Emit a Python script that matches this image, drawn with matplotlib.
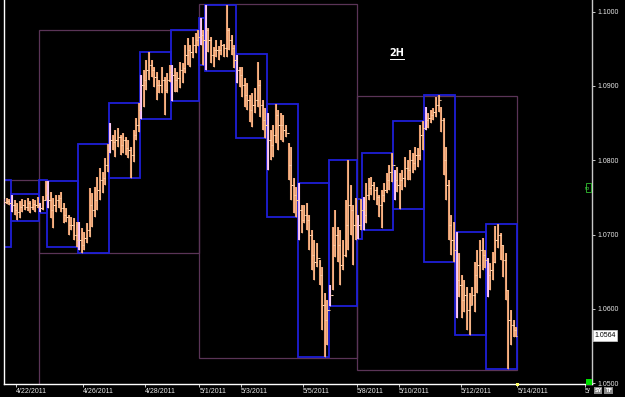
import matplotlib
matplotlib.use("Agg")
import matplotlib.pyplot as plt
from matplotlib.patches import Rectangle
from matplotlib.lines import Line2D
import matplotlib.transforms as mtransforms
import numpy as np

# ---- 2H bar data (price) ----
high = [1.0748,1.0749,1.0748,1.0753,1.0747,1.0743,1.0745,1.0748,1.0747,1.0749,1.0745,1.0748,1.0747,1.0751,1.0743,1.0752,1.0772,1.0772,1.0757,1.0749,
        1.0753,1.0753,1.0757,1.0743,1.0736,1.0726,1.0724,1.0722,1.0717,1.0717,1.0709,1.0703,1.0716,1.0763,1.0756,1.0764,1.0778,1.0790,1.0784,1.0803,
        1.0822,1.0850,1.0834,1.0841,1.0843,1.0834,1.0837,1.0831,1.0827,1.0818,1.0841,1.0857,1.0877,1.0915,1.0922,1.0935,1.0946,1.0935,1.0926,1.0919,
        1.0908,1.0926,1.0912,1.0918,1.0928,1.0928,1.0924,1.0919,1.0932,1.0931,1.0955,1.0965,1.0955,1.0966,1.0971,1.0975,1.0992,1.0975,1.1009,1.0978,
        1.0966,1.0953,1.0962,1.0954,1.0962,1.0957,1.1009,1.0978,1.0969,1.0955,1.0942,1.0926,1.0926,1.0911,1.0904,1.0888,1.0891,1.0897,1.0932,1.0908,
        1.0881,1.0870,1.0864,1.0841,1.0848,1.0876,1.0868,1.0864,1.0861,1.0848,1.0823,1.0818,1.0776,1.0764,1.0769,1.0740,1.0740,1.0743,1.0726,1.0706,
        1.0693,1.0689,1.0666,1.0656,1.0621,1.0612,1.0632,1.0710,1.0733,1.0710,1.0706,1.0693,1.0747,1.0800,1.0767,1.0740,1.0749,1.0726,1.0748,1.0751,
        1.0769,1.0776,1.0778,1.0771,1.0764,1.0753,1.0760,1.0769,1.0783,1.0794,1.0810,1.0787,1.0791,1.0783,1.0787,1.0805,1.0800,1.0814,1.0810,1.0818,
        1.0817,1.0848,1.0853,1.0872,1.0864,1.0868,1.0870,1.0885,1.0888,1.0872,1.0857,1.0818,1.0774,1.0726,1.0717,1.0703,1.0675,1.0646,1.0639,1.0629,
        1.0621,1.0629,1.0663,1.0679,1.0693,1.0695,1.0679,1.0669,1.0662,1.0677,1.0711,1.0714,1.0702,1.0686,1.0675,1.0625,1.0598,1.0585,1.0576]
low = [1.0740,1.0741,1.0740,1.0730,1.0726,1.0720,1.0722,1.0730,1.0733,1.0732,1.0729,1.0733,1.0730,1.0736,1.0730,1.0733,1.0747,1.0736,1.0722,1.0709,
       1.0730,1.0736,1.0730,1.0716,1.0717,1.0699,1.0706,1.0693,1.0683,1.0679,1.0675,1.0679,1.0689,1.0697,1.0710,1.0724,1.0733,1.0747,1.0756,1.0767,
       1.0784,1.0810,1.0814,1.0805,1.0818,1.0807,1.0810,1.0807,1.0803,1.0776,1.0798,1.0827,1.0838,1.0856,1.0872,1.0895,1.0908,1.0912,1.0899,1.0881,
       1.0891,1.0891,1.0861,1.0891,1.0905,1.0880,1.0892,1.0892,1.0897,1.0904,1.0918,1.0928,1.0926,1.0938,1.0944,1.0954,1.0955,1.0928,1.0922,1.0946,
       1.0931,1.0926,1.0939,1.0935,1.0942,1.0939,1.0939,1.0948,1.0942,1.0924,1.0904,1.0899,1.0885,1.0872,1.0868,1.0852,1.0845,1.0864,1.0872,1.0858,
       1.0841,1.0830,1.0787,1.0800,1.0805,1.0823,1.0814,1.0827,1.0825,1.0831,1.0774,1.0747,1.0729,1.0724,1.0693,1.0702,1.0716,1.0706,1.0679,1.0652,
       1.0639,1.0656,1.0632,1.0571,1.0535,1.0551,1.0604,1.0625,1.0670,1.0663,1.0632,1.0652,1.0670,1.0679,1.0699,1.0659,1.0693,1.0694,1.0706,1.0706,
       1.0716,1.0747,1.0753,1.0747,1.0740,1.0724,1.0709,1.0744,1.0756,1.0760,1.0771,1.0747,1.0757,1.0735,1.0760,1.0764,1.0774,1.0774,1.0783,1.0787,
       1.0791,1.0800,1.0814,1.0841,1.0843,1.0850,1.0854,1.0858,1.0865,1.0838,1.0780,1.0747,1.0693,1.0673,1.0663,1.0588,1.0616,1.0588,1.0596,1.0571,
       1.0565,1.0605,1.0596,1.0621,1.0641,1.0652,1.0655,1.0616,1.0625,1.0639,1.0662,1.0682,1.0666,1.0643,1.0612,1.0519,1.0551,1.0562,1.0562]
close = [1.0744,1.0745,1.0743,1.0740,1.0733,1.0730,1.0737,1.0740,1.0737,1.0743,1.0737,1.0741,1.0740,1.0740,1.0736,1.0747,1.0753,1.0747,1.0733,1.0740,
         1.0747,1.0749,1.0736,1.0726,1.0724,1.0713,1.0713,1.0699,1.0693,1.0693,1.0686,1.0695,1.0706,1.0740,1.0733,1.0747,1.0760,1.0774,1.0776,1.0794,
         1.0814,1.0827,1.0825,1.0827,1.0831,1.0821,1.0827,1.0817,1.0814,1.0807,1.0834,1.0848,1.0868,1.0901,1.0908,1.0922,1.0928,1.0922,1.0912,1.0901,
         1.0901,1.0908,1.0895,1.0908,1.0919,1.0915,1.0908,1.0911,1.0922,1.0924,1.0942,1.0948,1.0946,1.0955,1.0962,1.0966,1.0969,1.0962,1.0975,1.0962,
         1.0942,1.0948,1.0948,1.0948,1.0955,1.0951,1.0975,1.0962,1.0951,1.0935,1.0922,1.0915,1.0901,1.0888,1.0881,1.0868,1.0875,1.0881,1.0901,1.0875,
         1.0854,1.0848,1.0827,1.0821,1.0834,1.0861,1.0848,1.0848,1.0841,1.0837,1.0794,1.0767,1.0753,1.0747,1.0733,1.0720,1.0726,1.0720,1.0699,1.0673,
         1.0663,1.0669,1.0646,1.0605,1.0585,1.0598,1.0619,1.0686,1.0699,1.0686,1.0659,1.0673,1.0713,1.0740,1.0733,1.0713,1.0726,1.0713,1.0733,1.0726,
         1.0753,1.0763,1.0767,1.0760,1.0751,1.0740,1.0753,1.0760,1.0774,1.0784,1.0794,1.0774,1.0767,1.0774,1.0776,1.0790,1.0787,1.0800,1.0796,1.0807,
         1.0807,1.0834,1.0843,1.0854,1.0857,1.0861,1.0865,1.0875,1.0881,1.0854,1.0800,1.0767,1.0713,1.0693,1.0679,1.0639,1.0632,1.0612,1.0619,1.0598,
         1.0605,1.0619,1.0646,1.0659,1.0679,1.0673,1.0666,1.0646,1.0652,1.0663,1.0693,1.0699,1.0686,1.0666,1.0625,1.0585,1.0578,1.0571,1.0564]
first_open = 1.0745

# ---- daily range boxes ----
day_labels = ['4/21','4/22','4/24','4/25','4/26','4/27','4/28','4/29','5/1','5/2',
              '5/3','5/4','5/5','5/6','5/8','5/9','5/10','5/11','5/12','5/13']
day_bars = [3,11,3,12,12,12,12,11,2,12,12,12,12,11,2,12,12,12,12,12]
day_high = [1.0774,1.0755,1.0774,1.0772,1.0822,1.0877,1.0946,1.0975,1.0992,1.1009,
            1.0943,1.0876,1.0769,1.0800,1.0748,1.0810,1.0853,1.0888,1.0703,1.0714]
day_low = [1.0683,1.0718,1.0729,1.0683,1.0675,1.0776,1.0856,1.0880,1.0928,1.0920,
           1.0830,1.0724,1.0535,1.0604,1.0694,1.0706,1.0735,1.0663,1.0565,1.0519]

# ---- weekly range boxes ----
week_first_bar = [-40, 14, 76, 137]
week_last_bar = [13, 75, 136, 198]
week_high = [1.0774, 1.0975, 1.1010, 1.0887]
week_low = [1.0400, 1.0675, 1.0534, 1.0517]

# ---- axis ticks ----
xtick_bar = [5, 31, 55, 76, 92, 116, 137, 153, 177, 199, 225]
xtick_labels = ['4/22/2011','4/26/2011','4/28/2011','5/1/2011','5/3/2011','5/5/2011',
                '5/8/2011','5/10/2011','5/12/2011','5/14/2011','5/']
ytick_vals = [1.05, 1.06, 1.07, 1.08, 1.09, 1.10]
last_price = 1.0564

W, H = 625, 397
fig = plt.figure(figsize=(W/100, H/100), dpi=100, facecolor='black')
ax = fig.add_axes([3.5/W, (H-384)/H, (592-3.5)/W, 384/H])
ax.set_facecolor('black')
ax.set_xlim(-0.3, 227.35)
ax.set_ylim(1.04987, 1.10158)

n = len(high)
xs = np.arange(n)
opens = [first_open] + close[:-1]

# weekly boxes
for s, e, hi, lo in zip(week_first_bar, week_last_bar, week_high, week_low):
    ax.add_patch(Rectangle((s-0.5, lo), e-s+1, hi-lo, fill=False, ec='#5a3457', lw=0.9, zorder=1))

# daily boxes
starts = np.concatenate([[0], np.cumsum(day_bars)[:-1]])
for s, cnt, hi, lo in zip(starts, day_bars, day_high, day_low):
    ax.add_patch(Rectangle((s-0.5, lo), cnt, hi-lo, fill=False, ec='#1f1fd8', lw=1.3, zorder=2))

first_mask = np.zeros(n, bool)
first_mask[starts] = True
cols = np.where(first_mask, '#f2b6ea', '#e89c6e')
ax.vlines(xs, low, high, colors=cols, lw=1.5, zorder=3)
ax.vlines(xs, low, high, colors=np.where(first_mask, '#ffe0ff', '#ffc99e'), lw=0.4, zorder=4)
ax.hlines(opens, xs-0.5, xs, colors='#ffd2aa', lw=0.75, zorder=4)
ax.hlines(close, xs, xs+0.5, colors='#ffd2aa', lw=0.75, zorder=4)

# spines
ax.spines['top'].set_visible(False)
ax.spines['left'].set_color('white')
ax.spines['left'].set_linewidth(1.0)
ax.spines['bottom'].set_color('white')
ax.spines['bottom'].set_linewidth(1.0)
ax.spines['right'].set_color('#c8c8c8')
ax.spines['right'].set_linewidth(1.0)

ax.yaxis.tick_right()
ax.set_yticks(ytick_vals)
ax.set_yticklabels([f'{v:.4f}' for v in ytick_vals])
ax.tick_params(axis='y', colors='#e8e8e8', labelsize=5, length=2.5, width=0.6, pad=1.5)
for t in ax.get_yticklabels():
    t.set_fontfamily('Liberation Sans')

ax.set_xticks([b-0.5 for b in xtick_bar])
ax.set_xticklabels(xtick_labels)
ax.tick_params(axis='x', colors='#e8e8e8', labelsize=5, length=2, width=0.6, pad=1.2)
for t in ax.get_xticklabels():
    t.set_ha('left')
    t.set_fontfamily('Liberation Sans')

# last price marker
trans = mtransforms.blended_transform_factory(ax.transAxes, ax.transData)
ax.text(1.004, last_price, f'{last_price:.4f}', transform=trans, ha='left', va='center',
        fontsize=5, color='black', family='Liberation Sans', zorder=10, clip_on=False,
        bbox=dict(boxstyle='square,pad=0.25', fc='white', ec='#d0d0d0', lw=0.5))

# "2H" label
fig.text(397/W, 1-53.5/H, '2H', color='white', fontsize=7, fontweight='bold',
         ha='center', va='center', family='DejaVu Sans')
fig.add_artist(Line2D([390/W, 404/W], [1-59/H, 1-59/H], color='white', lw=0.7))

# small green marker on right axis
fig.add_artist(Rectangle((586/W, 1-192/H), 5/W, 9/H, fill=False, ec='#30c030', lw=0.6))
fig.text(588.5/W, 1-187.5/H, '8', color='#40d040', fontsize=4, rotation=90,
         ha='center', va='center')

# yellow marker at last date tick
fig.add_artist(Rectangle((515.5/W, 1-386/H), 3/W, 3/H, fc='#ffff66', ec='none'))
# green square bottom right
fig.add_artist(Rectangle((585.5/W, 1-384.5/H), 6.5/W, 5.5/H, fc='#00e000', ec='none'))

# SY / TF buttons
fig.add_artist(Rectangle((594/W, 3/H), 8/W, 7/H, fc='#8a8a8a', ec='none', zorder=21))
fig.add_artist(Rectangle((604/W, 3/H), 9/W, 7/H, fc='#8a8a8a', ec='none', zorder=21))
fig.text(598/W, 6.5/H, 'SY', color='white', fontsize=3.8, ha='center', va='center',
         fontweight='bold', zorder=22)
fig.text(608.5/W, 6.5/H, 'TF', color='white', fontsize=3.8, ha='center', va='center',
         fontweight='bold', zorder=22)

fig.savefig('out.png', dpi=100, facecolor='black')
